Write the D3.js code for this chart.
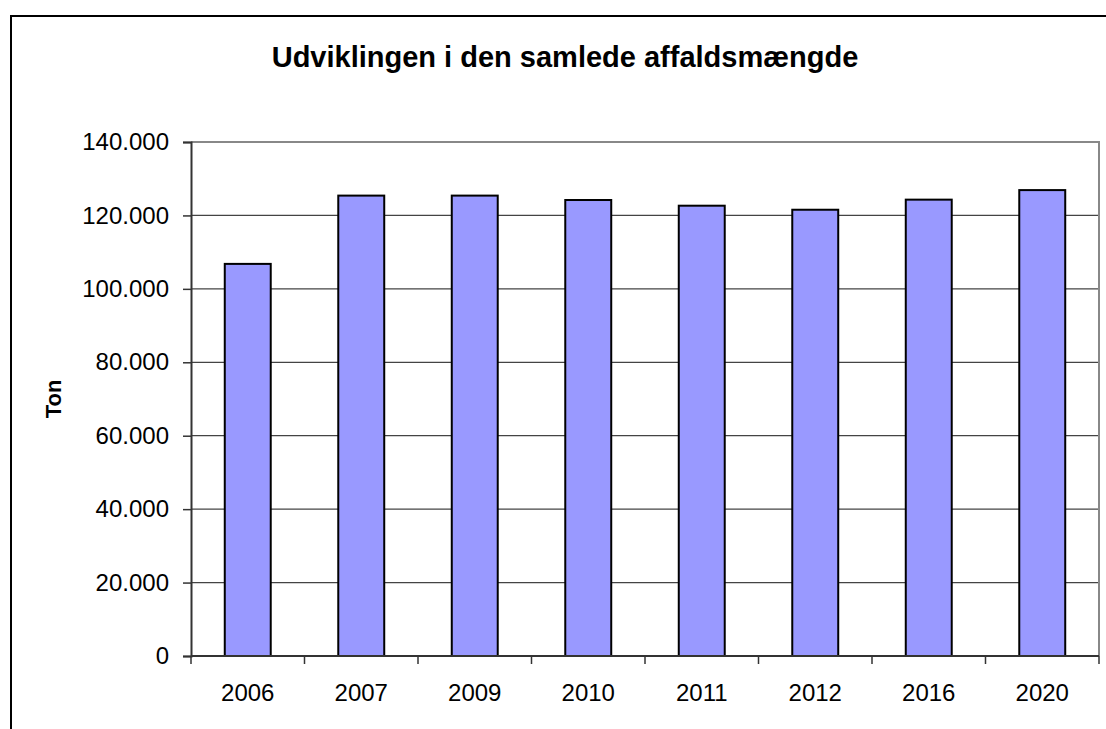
<!DOCTYPE html>
<html>
<head>
<meta charset="utf-8">
<script src="https://cdn.jsdelivr.net/npm/d3@7"></script>
<style>
  body { margin: 0; background: #fff; }
  svg { display: block; font-family: "Liberation Sans", Arial, sans-serif; }
</style>
</head>
<body>
<div id="chart"></div>
<script>
// data
const years = ["2006", "2007", "2009", "2010", "2011", "2012", "2016", "2020"];
const tons = [106800, 125400, 125400, 124200, 122650, 121550, 124300, 126900];
const yTicks = [0, 20000, 40000, 60000, 80000, 100000, 120000, 140000];
const title = "Udviklingen i den samlede affaldsmængde";
const yTitle = "Ton";

const width = 1106, height = 729;
const margin = {top: 142, right: 7, bottom: 73, left: 191};

const svg = d3.select("#chart").append("svg")
  .attr("width", width)
  .attr("height", height);

// outer chart frame (runs off the right and bottom edge)
svg.append("rect")
  .attr("x", 11).attr("y", 16)
  .attr("width", width + 20).attr("height", height + 20)
  .attr("fill", "#fff")
  .attr("stroke", "#000")
  .attr("stroke-width", 2);

const x = d3.scaleBand()
  .domain(years)
  .range([margin.left, width - margin.right])
  .paddingInner(0.595)
  .paddingOuter(0.2975);

const y = d3.scaleLinear()
  .domain([0, 140000])
  .range([height - margin.bottom, margin.top]);

const fmt = v => d3.format(",")(v).replace(/,/g, ".");

// grid lines
svg.append("g")
  .selectAll("line")
  .data(yTicks.slice(1, -1))
  .enter().append("line")
    .attr("x1", margin.left).attr("x2", width - margin.right)
    .attr("y1", d => y(d)).attr("y2", d => y(d))
    .attr("stroke", "#444")
    .attr("stroke-width", 1.2);

// plot frame top/right
svg.append("path")
  .attr("d", `M${margin.left},${y(140000)}H${width - margin.right}V${y(0)}`)
  .attr("fill", "none")
  .attr("stroke", "#888")
  .attr("stroke-width", 2);

// bars
svg.append("g")
  .selectAll("rect")
  .data(years)
  .enter().append("rect")
    .attr("x", d => x(d))
    .attr("y", (d, i) => y(tons[i]))
    .attr("width", x.bandwidth())
    .attr("height", (d, i) => y(0) - y(tons[i]))
    .attr("fill", "#9999ff")
    .attr("stroke", "#000")
    .attr("stroke-width", 2);

// y axis
const yAxis = svg.append("g")
  .attr("transform", `translate(${margin.left},0)`)
  .call(d3.axisLeft(y).tickValues(yTicks).tickFormat(fmt).tickSize(8).tickPadding(14));
yAxis.select(".domain").attr("stroke", "#333").attr("stroke-width", 2);
yAxis.selectAll(".tick line").attr("stroke", "#333").attr("stroke-width", 1.5);
yAxis.selectAll(".tick text")
  .attr("font-size", 24)
  .attr("font-family", "Liberation Sans, Arial, sans-serif")
  .attr("fill", "#000");

// x axis: ticks sit between categories
const step = x.step();
const edges = d3.range(years.length + 1).map(i => margin.left + i * step);
const xAxis = svg.append("g");
xAxis.append("line")
  .attr("x1", margin.left).attr("x2", width - margin.right)
  .attr("y1", y(0)).attr("y2", y(0))
  .attr("stroke", "#333").attr("stroke-width", 2);
xAxis.selectAll("line.tk")
  .data(edges)
  .enter().append("line")
    .attr("class", "tk")
    .attr("x1", d => d).attr("x2", d => d)
    .attr("y1", y(0)).attr("y2", y(0) + 8)
    .attr("stroke", "#333").attr("stroke-width", 1.5);
xAxis.selectAll("text")
  .data(years)
  .enter().append("text")
    .attr("x", d => x(d) + x.bandwidth() / 2)
    .attr("y", y(0) + 45)
    .attr("text-anchor", "middle")
    .attr("font-size", 24)
    .text(d => d);

// title
svg.append("text")
  .attr("x", 565)
  .attr("y", 67)
  .attr("text-anchor", "middle")
  .attr("font-size", 29)
  .attr("font-weight", "bold")
  .text(title);

// y axis title
svg.append("text")
  .attr("transform", `translate(61,${(y(0) + y(140000)) / 2}) rotate(-90)`)
  .attr("text-anchor", "middle")
  .attr("font-size", 22)
  .attr("font-weight", "bold")
  .text(yTitle);
</script>
</body>
</html>
